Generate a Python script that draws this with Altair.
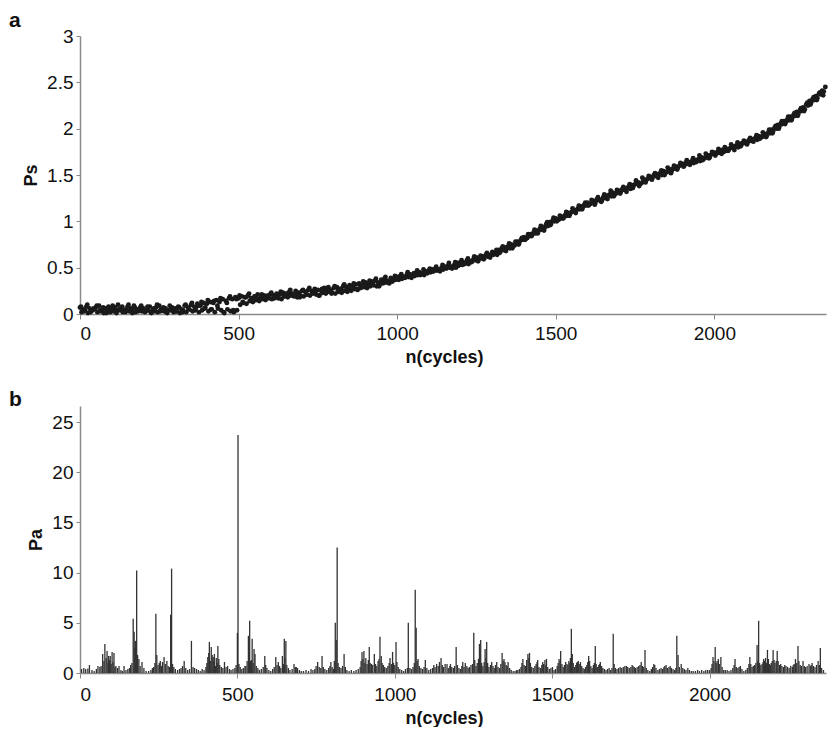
import altair as alt
import pandas as pd

# ---------------- Panel a: Ps vs n(cycles) ----------------
# upper band, n = 0, 10, ..., 2350
ps_upper = [
    0.07, 0.05, 0.08, 0.06, 0.04, 0.07, 0.09, 0.05, 0.06, 0.08,
    0.05, 0.07, 0.10, 0.06, 0.04, 0.08, 0.06, 0.09, 0.05, 0.07,
    0.06, 0.04, 0.08, 0.05, 0.07, 0.09, 0.05, 0.06, 0.04, 0.07,
    0.06, 0.08, 0.05, 0.09, 0.07, 0.10, 0.08, 0.11, 0.09, 0.12,
    0.11, 0.13, 0.12, 0.15, 0.13, 0.16, 0.14, 0.17, 0.16, 0.18,
    0.17, 0.19, 0.18, 0.20, 0.17, 0.19, 0.21, 0.18, 0.20, 0.19,
    0.21, 0.20, 0.22, 0.21, 0.23, 0.22, 0.24, 0.22, 0.25, 0.23,
    0.25, 0.24, 0.26, 0.25, 0.27, 0.26, 0.25, 0.28, 0.27, 0.26,
    0.28, 0.29, 0.27, 0.30, 0.29, 0.31, 0.30, 0.32, 0.33, 0.31,
    0.34, 0.33, 0.35, 0.36, 0.34, 0.37, 0.38, 0.36, 0.39, 0.38,
    0.40, 0.41, 0.39, 0.42, 0.43, 0.42, 0.44, 0.45, 0.44, 0.46,
    0.47, 0.48, 0.49, 0.48, 0.50, 0.51, 0.52, 0.51, 0.53, 0.55,
    0.56, 0.55, 0.58, 0.57, 0.59, 0.61, 0.60, 0.62, 0.64, 0.63,
    0.67, 0.66, 0.69, 0.71, 0.70, 0.73, 0.75, 0.74, 0.78, 0.80,
    0.83, 0.82, 0.86, 0.88, 0.90, 0.92, 0.94, 0.97, 0.99, 1.01,
    1.03, 1.02, 1.05, 1.07, 1.09, 1.10, 1.12, 1.14, 1.16, 1.18,
    1.20, 1.19, 1.22, 1.24, 1.23, 1.26, 1.27, 1.29, 1.31, 1.30,
    1.33, 1.35, 1.34, 1.37, 1.39, 1.40, 1.42, 1.41, 1.45, 1.46,
    1.48, 1.50, 1.49, 1.52, 1.54, 1.53, 1.56, 1.57, 1.59, 1.60,
    1.62, 1.63, 1.62, 1.65, 1.66, 1.67, 1.69, 1.68, 1.71, 1.72,
    1.74, 1.75, 1.76, 1.75, 1.78, 1.79, 1.80, 1.82, 1.83, 1.84,
    1.86, 1.88, 1.87, 1.90, 1.92, 1.91, 1.94, 1.96, 1.99, 2.01,
    2.04, 2.06, 2.08, 2.10, 2.13, 2.15, 2.18, 2.20, 2.23, 2.26,
    2.30, 2.32, 2.35, 2.38, 2.41, 2.45,
]
n_upper = list(range(0, 2351, 10))

# lower band, n = 5, 15, ..., 2345
ps_lower = [
    0.02, 0.04, 0.01, 0.03, 0.05, 0.02, 0.03, 0.01, 0.04, 0.02,
    0.03, 0.01, 0.04, 0.02, 0.05, 0.03, 0.01, 0.02, 0.04, 0.03,
    0.02, 0.04, 0.01, 0.03, 0.02, 0.05, 0.03, 0.01, 0.04, 0.02,
    0.03, 0.01, 0.04, 0.02, 0.05, 0.03, 0.06, 0.02, 0.04, 0.07,
    0.03, 0.05, 0.02, 0.06, 0.04, 0.01, 0.05, 0.03, 0.02, 0.04,
    0.10, 0.12, 0.11, 0.14, 0.13, 0.15, 0.14, 0.16, 0.15, 0.17,
    0.16, 0.18, 0.17, 0.16, 0.19, 0.18, 0.20, 0.19, 0.18, 0.20,
    0.19, 0.21, 0.20, 0.22, 0.21, 0.20, 0.23, 0.22, 0.24, 0.23,
    0.22, 0.24, 0.23, 0.25, 0.26, 0.25, 0.27, 0.26, 0.28, 0.29,
    0.28, 0.30, 0.31, 0.30, 0.32, 0.33, 0.34, 0.33, 0.35, 0.37,
    0.37, 0.38, 0.39, 0.40, 0.39, 0.41, 0.42, 0.43, 0.42, 0.44,
    0.45, 0.46, 0.47, 0.46, 0.48, 0.49, 0.50, 0.51, 0.50, 0.53,
    0.53, 0.55, 0.54, 0.56, 0.58, 0.57, 0.60, 0.61, 0.62, 0.64,
    0.65, 0.64, 0.67, 0.69, 0.72, 0.71, 0.74, 0.76, 0.77, 0.80,
    0.81, 0.84, 0.85, 0.87, 0.89, 0.91, 0.93, 0.95, 0.97, 1.00,
    1.01, 1.03, 1.04, 1.06, 1.08, 1.11, 1.12, 1.13, 1.15, 1.17,
    1.18, 1.21, 1.20, 1.23, 1.22, 1.25, 1.28, 1.27, 1.29, 1.32,
    1.32, 1.34, 1.36, 1.35, 1.38, 1.41, 1.40, 1.43, 1.44, 1.47,
    1.47, 1.49, 1.51, 1.50, 1.53, 1.55, 1.54, 1.57, 1.58, 1.61,
    1.60, 1.62, 1.64, 1.63, 1.66, 1.65, 1.68, 1.70, 1.69, 1.73,
    1.73, 1.74, 1.77, 1.76, 1.77, 1.80, 1.81, 1.80, 1.84, 1.85,
    1.85, 1.87, 1.89, 1.88, 1.91, 1.93, 1.92, 1.95, 1.97, 2.00,
    2.02, 2.05, 2.07, 2.09, 2.11, 2.14, 2.16, 2.19, 2.21, 2.25,
    2.28, 2.31, 2.33, 2.37, 2.40,
]
n_lower = list(range(5, 2346, 10))

# scattered points around the band, n = 3, 13, ..., 2343
ps_mid = [
    0.08, 0.03, 0.10, 0.02, 0.06, 0.09, 0.04, 0.07, 0.01, 0.06,
    0.09, 0.03, 0.05, 0.08, 0.02, 0.10, 0.04, 0.07, 0.03, 0.09,
    0.04, 0.08, 0.02, 0.06, 0.10, 0.03, 0.07, 0.02, 0.09, 0.05,
    0.03, 0.07, 0.02, 0.10, 0.05, 0.12, 0.04, 0.09, 0.13, 0.06,
    0.15, 0.05, 0.14, 0.09, 0.17, 0.02, 0.12, 0.19, 0.04, 0.16,
    0.20, 0.13, 0.18, 0.22, 0.15, 0.19, 0.16, 0.21, 0.17, 0.20,
    0.23, 0.17, 0.21, 0.24, 0.19, 0.22, 0.26, 0.20, 0.23, 0.18,
    0.26, 0.21, 0.28, 0.23, 0.25, 0.20, 0.27, 0.24, 0.29, 0.22,
    0.30, 0.25, 0.27, 0.32, 0.24, 0.29, 0.33, 0.27, 0.31, 0.35,
    0.31, 0.36, 0.33, 0.38, 0.30, 0.35, 0.40, 0.34, 0.37, 0.41,
    0.38, 0.43, 0.40, 0.45, 0.41, 0.44, 0.47, 0.42, 0.48, 0.45,
    0.49, 0.46, 0.51, 0.47, 0.53, 0.50, 0.55, 0.49, 0.56, 0.52,
    0.58, 0.54, 0.60, 0.56, 0.62, 0.58, 0.63, 0.59, 0.66, 0.61,
    0.64, 0.69, 0.66, 0.73, 0.68, 0.76, 0.71, 0.78, 0.75, 0.82,
    0.80, 0.86, 0.84, 0.91, 0.87, 0.95, 0.90, 0.99, 0.96, 1.04,
    1.00, 1.06, 1.03, 1.10, 1.06, 1.14, 1.09, 1.17, 1.13, 1.20,
    1.17, 1.23, 1.18, 1.26, 1.21, 1.29, 1.24, 1.33, 1.27, 1.34,
    1.30, 1.37, 1.32, 1.40, 1.36, 1.44, 1.38, 1.47, 1.42, 1.49,
    1.45, 1.52, 1.47, 1.55, 1.50, 1.58, 1.52, 1.60, 1.56, 1.63,
    1.59, 1.66, 1.61, 1.68, 1.64, 1.71, 1.66, 1.73, 1.68, 1.75,
    1.71, 1.78, 1.73, 1.80, 1.76, 1.83, 1.77, 1.85, 1.81, 1.87,
    1.83, 1.90, 1.86, 1.93, 1.89, 1.96, 1.91, 1.99, 1.95, 2.03,
    2.00, 2.08, 2.05, 2.13, 2.09, 2.17, 2.14, 2.22, 2.19, 2.28,
    2.26, 2.34, 2.31, 2.39, 2.36,
]
n_mid = list(range(3, 2344, 10))

# ---------------- Panel b: Pa spikes (n, Pa) ----------------
pa_0_500 = [
    (5,0.4),(12,0.5),(18,0.4),(25,0.45),(30,0.8),(38,0.3),(45,0.2),(52,0.4),(57,0.7),(63,0.6),
    (67,0.7),(72,1.9),(76,1.2),(79,2.9),(83,1.5),(86,2.2),(89,1.0),(91,1.7),(94,1.3),(96,1.7),
    (99,0.9),(102,2.1),(105,1.1),(108,2.0),(111,0.6),(114,0.7),(119,0.5),(124,0.7),(130,0.3),(135,0.2),
    (140,0.7),(146,0.3),(152,0.4),(157,0.5),(161,0.8),(165,1.0),(169,5.4),(172,4.1),(174,2.5),(176,3.2),
    (180,10.2),(183,1.8),(187,1.4),(191,0.7),(197,1.1),(203,0.5),(210,0.2),(218,0.2),(225,0.3),(230,0.5),
    (234,0.6),(238,1.0),(241,5.9),(244,1.8),(248,0.8),(252,1.0),(255,1.2),(259,0.7),(262,1.1),(267,1.6),
    (271,0.9),(276,1.2),(280,0.7),(284,0.6),(288,5.8),(291,10.4),(294,0.9),(298,0.6),(303,0.4),(310,0.3),
    (316,0.4),(321,0.5),(326,0.7),(331,1.2),(336,0.5),(342,0.3),(348,0.4),(354,3.2),(359,0.6),(364,0.5),
    (370,0.4),(376,0.3),(382,0.2),(388,0.4),(394,0.3),(400,0.6),(403,1.0),(406,1.6),(409,2.0),(411,3.1),
    (414,1.2),(417,2.6),(420,1.8),(423,1.6),(425,1.2),(427,1.9),(430,0.7),(433,1.5),(436,1.0),(438,2.7),
    (441,1.4),(444,0.8),(449,0.6),(454,0.5),(459,1.1),(464,0.6),(469,0.7),(475,0.4),(480,0.3),(486,0.4),
    (492,0.5),(496,0.8),
]
pa_500_1000 = [
    (500,4.0),(502,23.7),(505,0.9),(509,0.6),(514,0.4),(519,0.5),(524,0.7),(527,0.7),(531,1.2),(535,3.7),
    (537,1.5),(539,5.2),(542,1.2),(545,1.3),(547,3.4),(550,1.0),(553,2.4),(556,1.9),(560,0.7),(565,0.5),
    (570,0.3),(576,0.4),(582,0.6),(587,1.7),(590,0.8),(594,0.5),(600,0.3),(606,0.2),(612,0.4),(617,0.6),
    (622,1.6),(626,0.8),(630,1.1),(634,0.7),(638,0.5),(643,1.7),(646,0.9),(649,3.4),(651,1.5),(654,3.2),
    (657,0.8),(662,0.5),(667,0.3),(674,0.4),(680,0.9),(684,0.6),(687,0.6),(691,0.5),(697,0.3),(703,0.2),
    (710,0.2),(718,0.3),(726,0.2),(734,0.4),(740,0.3),(746,0.4),(750,0.7),(755,1.1),(760,0.6),(765,0.5),
    (769,1.7),(773,0.6),(778,0.4),(784,0.3),(790,0.5),(794,0.7),(797,1.1),(801,0.6),(805,0.4),(808,1.2),
    (811,5.0),(814,3.3),(817,12.5),(820,1.0),(824,0.6),(829,0.5),(834,0.7),(839,1.9),(843,0.6),(848,0.3),
    (855,0.2),(862,0.3),(870,0.2),(877,0.3),(884,0.4),(890,0.6),(893,1.2),(896,2.1),(899,1.4),(902,2.2),
    (905,1.0),(908,1.5),(912,0.9),(916,1.3),(919,2.6),(922,1.0),(926,0.9),(930,0.8),(935,1.9),(939,0.9),
    (943,0.7),(947,1.2),(950,1.4),(953,3.6),(957,1.7),(960,1.0),(964,0.8),(968,0.6),(973,0.5),(978,0.7),
    (982,1.0),(985,1.5),(989,0.9),(993,2.1),(996,1.0),
]
pa_1000_1500 = [
    (1000,0.8),(1004,3.1),(1007,1.1),(1011,0.6),(1016,0.4),(1022,0.3),(1028,0.2),(1034,0.4),(1040,0.5),(1043,5.0),
    (1048,0.5),(1053,0.4),(1058,0.6),(1062,1.0),(1065,8.3),(1068,4.5),(1071,1.2),(1074,1.4),(1078,0.7),(1083,0.5),
    (1088,0.4),(1093,0.6),(1097,1.3),(1102,0.5),(1108,0.3),(1114,0.4),(1120,0.5),(1124,0.8),(1128,0.6),(1133,0.9),
    (1138,0.7),(1142,1.1),(1147,1.5),(1151,0.8),(1155,0.6),(1160,0.9),(1166,0.9),(1170,0.5),(1175,0.7),(1177,0.9),
    (1181,0.6),(1186,0.5),(1190,0.7),(1195,2.6),(1199,0.8),(1204,0.5),(1209,0.4),(1213,0.7),(1216,1.1),(1220,0.6),
    (1224,1.0),(1229,0.7),(1233,0.5),(1237,0.6),(1242,0.8),(1247,0.9),(1251,4.0),(1254,1.3),(1258,0.7),(1262,1.0),
    (1266,1.4),(1269,2.9),(1271,1.8),(1273,3.3),(1276,1.0),(1280,0.7),(1284,1.1),(1287,2.4),(1290,1.5),(1292,3.1),
    (1295,1.0),(1299,0.6),(1304,0.8),(1308,1.1),(1312,0.7),(1316,0.5),(1320,0.8),(1324,1.1),(1328,0.6),(1333,0.5),
    (1337,0.9),(1341,2.0),(1344,1.2),(1347,1.4),(1350,1.1),(1354,0.8),(1357,0.7),(1360,1.1),(1365,0.5),(1370,0.3),
    (1376,0.2),(1382,0.2),(1387,0.3),(1391,0.3),(1396,0.4),(1401,0.6),(1404,1.0),(1407,1.4),(1411,0.8),(1415,0.7),
    (1419,1.3),(1423,1.9),(1426,1.5),(1428,2.0),(1431,1.0),(1435,0.6),(1440,0.5),(1445,0.7),(1449,0.9),(1452,1.1),
    (1454,1.3),(1458,0.6),(1463,0.5),(1467,0.8),(1470,1.1),(1473,0.9),(1477,1.3),(1480,0.8),(1482,1.4),(1486,0.6),
    (1491,0.4),(1496,0.5),
]
pa_1500_2000 = [
    (1501,0.6),(1506,0.3),(1511,0.4),(1516,0.7),(1519,1.0),(1522,1.4),(1525,1.2),(1527,2.2),(1531,0.9),(1535,0.6),
    (1539,0.8),(1543,1.1),(1547,0.9),(1550,0.8),(1553,1.2),(1556,1.0),(1558,1.5),(1561,4.4),(1564,1.9),(1567,1.0),
    (1571,0.6),(1575,0.8),(1578,1.0),(1580,1.1),(1583,1.2),(1586,0.9),(1590,1.1),(1594,0.7),(1598,0.5),(1602,0.4),
    (1606,0.6),(1610,0.8),(1613,1.1),(1616,1.7),(1619,1.2),(1623,0.7),(1627,0.5),(1631,0.8),(1634,1.0),(1637,2.7),
    (1640,0.9),(1644,0.6),(1648,0.8),(1651,0.9),(1653,1.1),(1657,0.7),(1661,0.5),(1666,0.4),(1671,0.3),(1676,0.4),
    (1681,0.5),(1686,0.3),(1690,0.5),(1694,3.9),(1697,0.9),(1701,0.5),(1706,0.4),(1711,0.5),(1716,0.6),(1721,0.5),
    (1726,0.6),(1731,0.7),(1736,0.7),(1740,0.6),(1745,0.5),(1750,0.6),(1754,0.8),(1757,0.7),(1761,0.6),(1765,0.5),
    (1770,0.6),(1775,0.7),(1779,0.8),(1783,1.1),(1787,0.7),(1791,0.6),(1795,2.3),(1799,0.5),(1804,0.3),(1810,0.2),
    (1815,0.4),(1819,0.6),(1823,0.9),(1826,0.8),(1830,0.5),(1836,0.3),(1841,0.4),(1846,0.5),(1851,0.4),(1855,0.6),
    (1858,0.7),(1862,0.8),(1866,0.5),(1871,0.6),(1875,0.7),(1879,0.5),(1884,0.4),(1889,0.3),(1893,0.5),(1896,3.7),
    (1900,1.8),(1904,0.6),(1910,0.9),(1915,0.5),(1920,0.4),(1925,0.3),(1931,0.5),(1936,0.3),(1942,0.2),(1948,0.2),
    (1955,0.2),(1962,0.3),(1968,0.2),(1975,0.3),(1982,0.2),(1988,0.3),(1994,0.3),
]
pa_2000_end = [
    (2000,0.3),(2005,0.5),(2008,0.9),(2011,1.6),(2014,1.2),(2018,2.6),(2021,1.0),(2024,1.2),(2028,1.4),(2031,0.9),
    (2036,1.6),(2040,0.6),(2045,0.3),(2050,0.3),(2056,0.3),(2062,0.2),(2068,0.3),(2074,0.5),(2078,0.8),(2081,1.4),
    (2085,0.6),(2090,0.5),(2094,0.6),(2098,0.7),(2103,0.4),(2109,0.2),(2115,0.3),(2120,0.5),(2125,0.9),(2128,1.6),
    (2131,0.9),(2135,0.6),(2139,0.7),(2143,0.8),(2147,1.0),(2151,2.8),(2153,1.2),(2156,5.2),(2159,1.0),(2163,0.8),
    (2167,0.9),(2170,1.1),(2172,1.4),(2175,1.2),(2178,1.5),(2181,1.0),(2184,2.3),(2187,1.4),(2190,0.9),(2193,0.8),
    (2196,1.0),(2199,1.2),(2202,2.3),(2205,1.3),(2208,1.0),(2212,1.2),(2215,2.2),(2218,1.2),(2222,0.8),(2226,0.9),
    (2230,0.7),(2235,0.6),(2239,0.8),(2243,0.7),(2248,0.6),(2253,0.5),(2258,0.7),(2263,0.6),(2266,0.8),(2269,0.9),
    (2273,1.4),(2277,1.0),(2281,2.7),(2284,1.2),(2288,0.8),(2292,0.7),(2297,1.2),(2301,0.7),(2305,0.6),(2310,0.7),
    (2316,0.9),(2320,0.7),(2323,0.8),(2326,1.0),(2330,0.7),(2335,0.6),(2340,0.8),(2345,1.2),(2349,0.8),(2352,2.5),
    (2356,0.5),(2362,0.3),
]

ps_ticks = [0, 0.5, 1, 1.5, 2, 2.5, 3]
pa_ticks = [0, 5, 10, 15, 20, 25]
n_ticks = [0, 500, 1000, 1500, 2000]

# ---------------- build tables ----------------
df_a = pd.DataFrame({
    "n": n_upper + n_lower + n_mid,
    "Ps": ps_upper + ps_lower + ps_mid,
})
spikes = pa_0_500 + pa_500_1000 + pa_1000_1500 + pa_1500_2000 + pa_2000_end
df_b = pd.DataFrame({"n": [p[0] for p in spikes], "Pa": [p[1] for p in spikes]})

FONT = "Liberation Sans"
AXIS_GREY = "#8a8a8a"
W = 746

def x_axis(label_pad, title_pad):
    return alt.Axis(values=n_ticks, format="d", title="n(cycles)", grid=False,
                    domainColor=AXIS_GREY, domainWidth=1.5, tickColor=AXIS_GREY,
                    tickSize=5, labelFont=FONT, labelFontSize=19, labelColor="#111",
                    labelPadding=label_pad, titleFont=FONT, titleFontSize=18, titleFontWeight="bold",
                    titleColor="#111", titlePadding=title_pad, titleX=364)

def y_axis(vals, fmt, title):
    return alt.Axis(values=vals, format=fmt, title=title, grid=False,
                    domainColor=AXIS_GREY, domainWidth=1.5, tickColor=AXIS_GREY,
                    tickSize=4, labelFont=FONT, labelFontSize=19, labelColor="#111",
                    labelPadding=3, titleFont=FONT, titleFontSize=18,
                    titleFontWeight="bold", titleColor="#111", titlePadding=6)

def panel_title(txt):
    return alt.TitleParams(txt, anchor="start", frame="group", fontSize=21, fontWeight="bold",
                           font=FONT, color="#111", dx=-71, offset=-4)

chart_a = alt.Chart(df_a).mark_circle(size=24, color="#1a1a1a", opacity=1).encode(
    x=alt.X("n:Q", scale=alt.Scale(domain=[0, 2352], nice=False, zero=False), axis=x_axis(5, 5)),
    y=alt.Y("Ps:Q", scale=alt.Scale(domain=[0, 3], nice=False), axis=y_axis(ps_ticks, "~g", "Ps")),
).properties(width=W, height=278, title=panel_title("a"))

chart_b = alt.Chart(df_b).mark_rule(color="#333333", strokeWidth=1.3).encode(
    x=alt.X("n:Q", scale=alt.Scale(domain=[0, 2370], nice=False, zero=False), axis=x_axis(7, 5)),
    y=alt.Y("Pa:Q", scale=alt.Scale(domain=[0, 26.6], nice=False), axis=y_axis(pa_ticks, "d", "Pa")),
    y2=alt.datum(0),
).properties(width=W, height=267, title=panel_title("b"))

chart = alt.vconcat(chart_a, chart_b, spacing=23).configure_view(stroke=None).properties(
    padding={"left": 1, "top": 2, "right": 0, "bottom": 0}, background="white"
)

chart.save("out.html", embed_options={"renderer": "svg", "actions": False})
